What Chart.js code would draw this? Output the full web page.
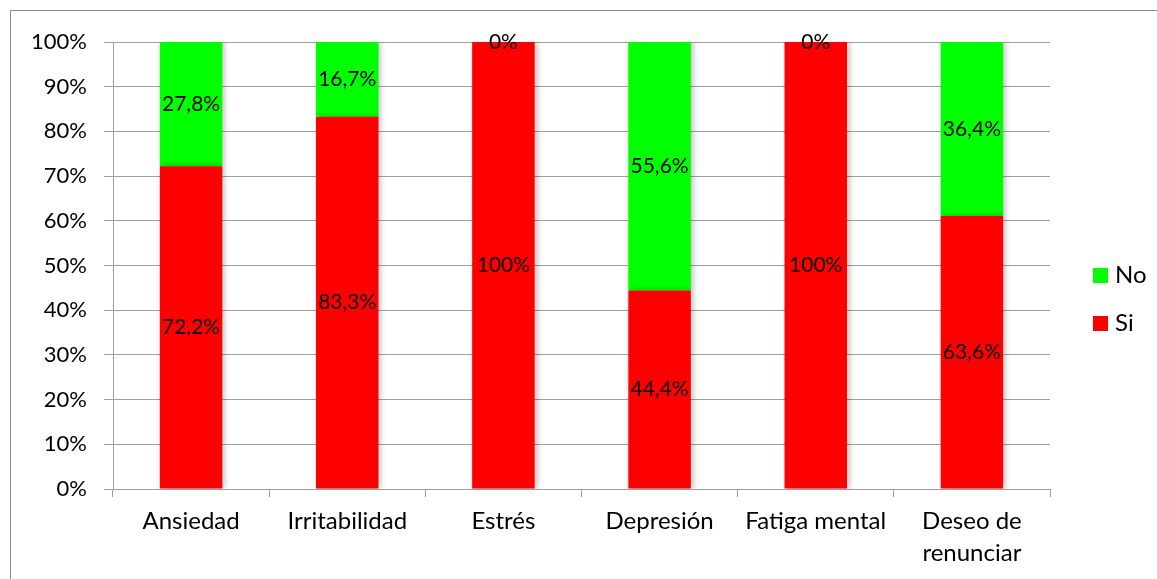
<!DOCTYPE html>
<html>
<head>
<meta charset="utf-8">
<script src="https://cdn.jsdelivr.net/npm/chart.js@4.4.1/dist/chart.umd.min.js"></script>
<style>
  html, body { margin: 0; padding: 0; overflow: hidden; background: #fff; }
  #frame { position: absolute; left: 10px; top: 10px; width: 1300px; height: 800px; border: 1px solid #8c8c8c; }
  #wrap { position: absolute; left: 0; top: 0; width: 1157px; height: 579px; }
</style>
</head>
<body>
<div id="frame"></div>
<div id="wrap"><canvas id="myChart"></canvas></div>
<script>
// categories and values
var categories = ["Ansiedad", "Irritabilidad", "Estrés", "Depresión", "Fatiga mental", ["Deseo de", "renunciar"]];
var siValues = [72.2, 83.3, 100, 44.4, 100, 61.1];
var noValues = [27.8, 16.7, 0, 55.6, 0, 38.9];
var siLabels = ["72,2%", "83,3%", "100%", "44,4%", "100%", "63,6%"];
var noLabels = ["27,8%", "16,7%", "0%", "55,6%", "0%", "36,4%"];
var yTicks = [0, 10, 20, 30, 40, 50, 60, 70, 80, 90, 100];

var FONT = "Lato, 'Liberation Sans', sans-serif";

// soft shadow behind the bars
var barShadow = {
  id: "barShadow",
  beforeDatasetsDraw: function (chart) {
    var ctx = chart.ctx;
    ctx.save();
    ctx.shadowColor = "rgba(0,0,0,0.28)";
    ctx.shadowBlur = 6;
    ctx.shadowOffsetX = 2;
    ctx.shadowOffsetY = 0;
  },
  afterDatasetsDraw: function (chart) {
    chart.ctx.restore();
  }
};

// value labels in the middle of each segment
var segLabels = {
  id: "segLabels",
  afterDatasetsDraw: function (chart) {
    var ctx = chart.ctx;
    ctx.save();
    ctx.shadowColor = "transparent";
    ctx.font = "21px " + FONT;
    ctx.fillStyle = "#000";
    ctx.textAlign = "center";
    ctx.textBaseline = "middle";
    chart.data.datasets.forEach(function (ds, i) {
      var meta = chart.getDatasetMeta(i);
      meta.data.forEach(function (bar, j) {
        var y = (bar.y + bar.base) / 2;
        ctx.fillText(ds.texts[j], bar.x, y);
      });
    });
    ctx.restore();
  }
};

// legend on the right, "No" above "Si"
var sideLegend = {
  id: "sideLegend",
  afterDraw: function (chart) {
    var ctx = chart.ctx;
    var area = chart.chartArea;
    var x = area.right + 43;
    var yMid = (area.top + area.bottom) / 2;
    var sets = chart.data.datasets.slice().reverse();
    ctx.save();
    ctx.font = "24px " + FONT;
    ctx.textBaseline = "middle";
    ctx.textAlign = "left";
    sets.forEach(function (ds, k) {
      var y = yMid + 10 + k * 48;
      ctx.fillStyle = ds.backgroundColor;
      ctx.fillRect(x, y - 7.5, 15, 15);
      ctx.fillStyle = "#000";
      ctx.fillText(ds.label, x + 22, y);
    });
    ctx.restore();
  }
};

var ctx = document.getElementById("myChart").getContext("2d");
var myChart = new Chart(ctx, {
  type: "bar",
  data: {
    labels: categories,
    datasets: [
      {
        label: "Si",
        data: siValues,
        texts: siLabels,
        backgroundColor: "#ff0000",
        categoryPercentage: 1,
        barPercentage: 0.4
      },
      {
        label: "No",
        data: noValues,
        texts: noLabels,
        backgroundColor: "#00ff00",
        categoryPercentage: 1,
        barPercentage: 0.4
      }
    ]
  },
  options: {
    responsive: true,
    maintainAspectRatio: false,
    animation: false,
    layout: { padding: { top: 42, left: 0, right: 107, bottom: 0 } },
    plugins: {
      tooltip: { enabled: false },
      legend: { display: false }
    },
    scales: {
      x: {
        stacked: true,
        grid: {
          offset: true,
          drawOnChartArea: false,
          tickLength: 8,
          color: "#a0a0a0"
        },
        border: { color: "#a0a0a0" },
        ticks: {
          color: "#000",
          padding: 9,
          maxRotation: 0,
          font: { family: FONT, size: 24, lineHeight: 1.3 }
        },
        afterFit: function (scale) { scale.height = 90; }
      },
      y: {
        stacked: true,
        min: 0,
        max: 100,
        afterBuildTicks: function (scale) {
          scale.ticks = yTicks.map(function (v) { return { value: v }; });
        },
        grid: { color: "#a0a0a0", tickLength: 9 },
        border: { color: "#a0a0a0" },
        ticks: {
          color: "#000",
          padding: 17,
          font: { family: FONT, size: 22 },
          callback: function (v) { return v + "%"; }
        },
        afterFit: function (scale) { scale.width = 113; }
      }
    }
  },
  plugins: [barShadow, segLabels, sideLegend]
});
</script>
</body>
</html>
